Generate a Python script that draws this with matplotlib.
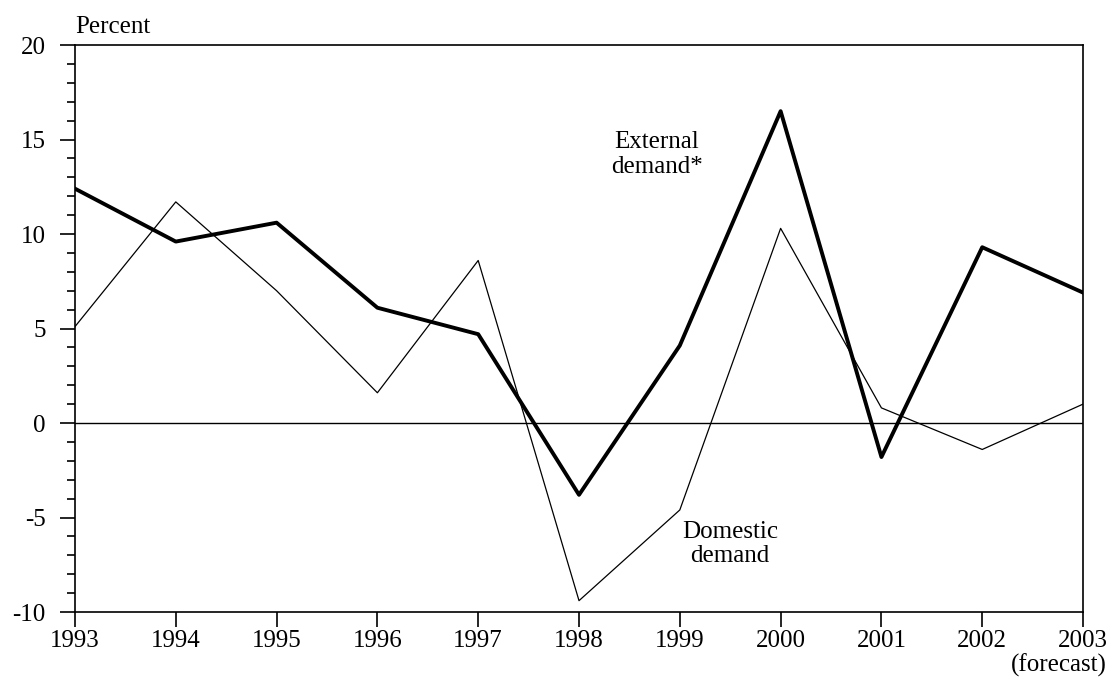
import matplotlib.pyplot as plt
from matplotlib.ticker import MultipleLocator

plt.rcParams['font.family'] = ['Liberation Serif', 'DejaVu Serif']
plt.rcParams['font.size'] = 18
plt.rcParams['axes.unicode_minus'] = False

years = [1993, 1994, 1995, 1996, 1997, 1998, 1999, 2000, 2001, 2002, 2003]
external = [12.4, 9.6, 10.6, 6.1, 4.7, -3.8, 4.1, 16.5, -1.8, 9.3, 6.9]
domestic = [5.1, 11.7, 7.0, 1.6, 8.6, -9.4, -4.6, 10.3, 0.8, -1.4, 1.0]

fig = plt.figure(figsize=(11.09, 6.77), dpi=100)
ax = fig.add_axes([0.0676, 0.096, 0.909, 0.8375])

ax.plot(years, domestic, color='black', lw=0.9)
ax.plot(years, external, color='black', lw=2.8)
ax.axhline(0, color='black', lw=1.0)

ax.set_xlim(1993, 2003)
ax.set_ylim(-10, 20)
ax.set_xticks(years)
ax.set_xticklabels([str(y) for y in years])
ax.yaxis.set_major_locator(MultipleLocator(5))
ax.yaxis.set_minor_locator(MultipleLocator(1))
ax.tick_params(axis='both', which='major', direction='out', length=11, width=1.2)
ax.tick_params(axis='y', which='minor', direction='out', length=6, width=1.2)
ax.tick_params(axis='y', pad=10)
ax.tick_params(axis='x', pad=2)
for spine in ax.spines.values():
    spine.set_linewidth(1.2)

# forecast note under the last year
ax.annotate('(forecast)', xy=(1, 0), xycoords='axes fraction',
            xytext=(17, -30), textcoords='offset points',
            ha='right', va='top', fontsize=18)

ax.text(0, 1.012, 'Percent', transform=ax.transAxes, ha='left', va='bottom')
ax.text(1998.77, 14.2, 'External\ndemand*', ha='center', va='center', linespacing=1.15)
ax.text(1999.5, -6.4, 'Domestic\ndemand', ha='center', va='center', linespacing=1.15)

fig.savefig('out.png', dpi=100)
